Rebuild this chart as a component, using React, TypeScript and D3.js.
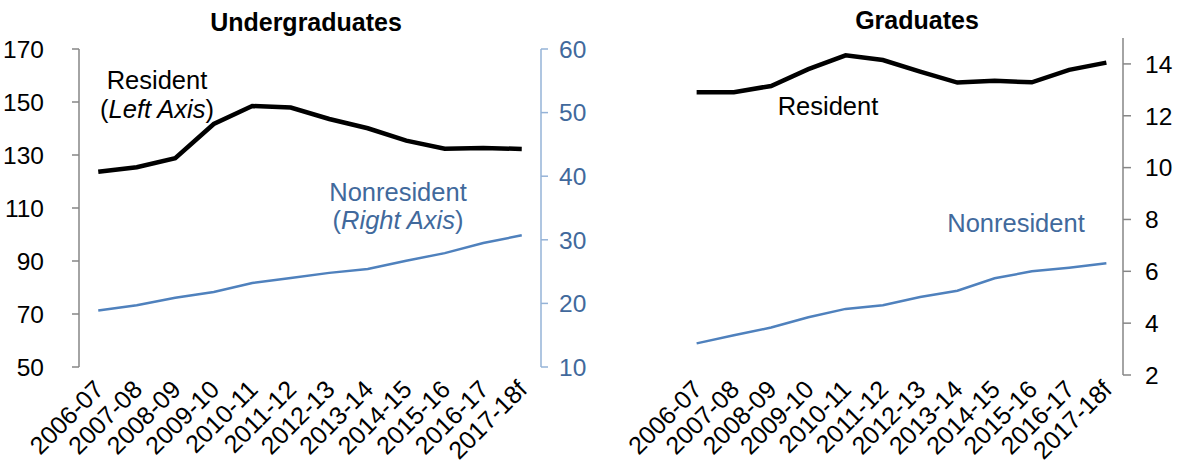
import React from 'react';
import * as d3 from 'd3';

const years = ['2006-07', '2007-08', '2008-09', '2009-10', '2010-11', '2011-12', '2012-13', '2013-14', '2014-15', '2015-16', '2016-17', '2017-18f'];

// Undergraduates
const ugResident = [123.7, 125.4, 128.8, 141.7, 148.5, 147.9, 143.6, 140.1, 135.4, 132.4, 132.6, 132.3];
const ugNonresident = [18.9, 19.7, 20.9, 21.8, 23.2, 24.0, 24.8, 25.4, 26.7, 27.9, 29.5, 30.7];
const ugLeftTicks = [50, 70, 90, 110, 130, 150, 170];
const ugRightTicks = [10, 20, 30, 40, 50, 60];

// Graduates
const gradResident = [12.91, 12.91, 13.15, 13.8, 14.33, 14.15, 13.7, 13.28, 13.35, 13.29, 13.77, 14.05];
const gradNonresident = [3.22, 3.53, 3.83, 4.23, 4.55, 4.69, 5.01, 5.25, 5.73, 6.0, 6.14, 6.31];
const gradTicks = [2, 4, 6, 8, 10, 12, 14];

const FONT = '"Liberation Sans", Arial, sans-serif';
const FS_TICK = 24.5;
const FS_NOTE = 25.5;
const FS_X = 25;
const BLUE_LINE = '#4f81bd';
const BLUE_TEXT = '#41699c';
const BLUE_AXIS = '#95b3d7';
const GREY_AXIS = '#868686';

function XLabels({ x, y }: { x: d3.ScalePoint<string>; y: number }) {
  return (
    <g>
      {years.map((c) => (
        <text
          key={c}
          transform={`translate(${(x(c) as number) + 7},${y}) rotate(-45)`}
          textAnchor="end"
          fontSize={FS_X}
          fill="#000"
        >
          {c}
        </text>
      ))}
    </g>
  );
}

export default function App() {
  // left panel scales
  const x1 = d3.scalePoint<string>().domain(years).range([79, 541]).padding(0.5);
  const yL = d3.scaleLinear().domain([50, 170]).range([367, 49]);
  const yR = d3.scaleLinear().domain([10, 60]).range([367, 49]);

  // right panel scales
  const x2 = d3.scalePoint<string>().domain(years).range([678, 1125]).padding(0.5);
  const y2 = d3.scaleLinear().domain([2, 15]).range([375, 38]);

  const line = (xs: d3.ScalePoint<string>, ys: d3.ScaleLinear<number, number>) =>
    d3.line<number>()
      .x((_, i) => xs(years[i]) as number)
      .y((d) => ys(d));

  return (
    <svg
      width={1183}
      height={472}
      style={{ position: 'absolute', left: 0, top: 0, display: 'block', background: '#fff' }}
      fontFamily={FONT}
    >
      {/* ---------- Undergraduates ---------- */}
      <text x={306} y={31} textAnchor="middle" fontSize={25} fontWeight="bold">Undergraduates</text>

      {/* left axis */}
      <line x1={79} x2={79} y1={yL(50)} y2={yL(170)} stroke={GREY_AXIS} strokeWidth={1.5} />
      {ugLeftTicks.map((t) => (
        <g key={t}>
          <line x1={72} x2={79} y1={yL(t)} y2={yL(t)} stroke={GREY_AXIS} strokeWidth={1.5} />
          <text x={44} y={yL(t)} dy="0.36em" textAnchor="end" fontSize={FS_TICK}>{t}</text>
        </g>
      ))}

      {/* right axis */}
      <line x1={541} x2={541} y1={yR(10)} y2={yR(60)} stroke={BLUE_AXIS} strokeWidth={1.5} />
      {ugRightTicks.map((t) => (
        <g key={t}>
          <line x1={541} x2={548} y1={yR(t)} y2={yR(t)} stroke={BLUE_AXIS} strokeWidth={1.5} />
          <text x={559} y={yR(t)} dy="0.36em" textAnchor="start" fontSize={FS_TICK} fill={BLUE_TEXT}>{t}</text>
        </g>
      ))}

      <path d={line(x1, yR)(ugNonresident) || ''} fill="none" stroke={BLUE_LINE} strokeWidth={2.5} />
      <path d={line(x1, yL)(ugResident) || ''} fill="none" stroke="#000" strokeWidth={4.5} />

      <text x={157} y={89} textAnchor="middle" fontSize={FS_NOTE}>Resident</text>
      <text x={157} y={118} textAnchor="middle" fontSize={FS_NOTE}>(<tspan fontStyle="italic">Left Axis</tspan>)</text>
      <text x={398} y={201} textAnchor="middle" fontSize={FS_NOTE} fill={BLUE_TEXT}>Nonresident</text>
      <text x={398} y={229} textAnchor="middle" fontSize={FS_NOTE} fill={BLUE_TEXT}>(<tspan fontStyle="italic">Right Axis</tspan>)</text>

      <XLabels x={x1} y={391} />

      {/* ---------- Graduates ---------- */}
      <text x={917} y={29} textAnchor="middle" fontSize={25} fontWeight="bold">Graduates</text>

      <line x1={1123} x2={1123} y1={y2(2)} y2={y2(15)} stroke={GREY_AXIS} strokeWidth={1.5} />
      {gradTicks.map((t) => (
        <g key={t}>
          <line x1={1123} x2={1131} y1={y2(t)} y2={y2(t)} stroke={GREY_AXIS} strokeWidth={1.5} />
          <text x={1145} y={y2(t)} dy="0.36em" textAnchor="start" fontSize={FS_TICK}>{t}</text>
        </g>
      ))}

      <path d={line(x2, y2)(gradNonresident) || ''} fill="none" stroke={BLUE_LINE} strokeWidth={2.5} />
      <path d={line(x2, y2)(gradResident) || ''} fill="none" stroke="#000" strokeWidth={4.5} />

      <text x={828} y={115} textAnchor="middle" fontSize={FS_NOTE}>Resident</text>
      <text x={1016} y={232} textAnchor="middle" fontSize={FS_NOTE} fill={BLUE_TEXT}>Nonresident</text>

      <XLabels x={x2} y={391} />
    </svg>
  );
}
